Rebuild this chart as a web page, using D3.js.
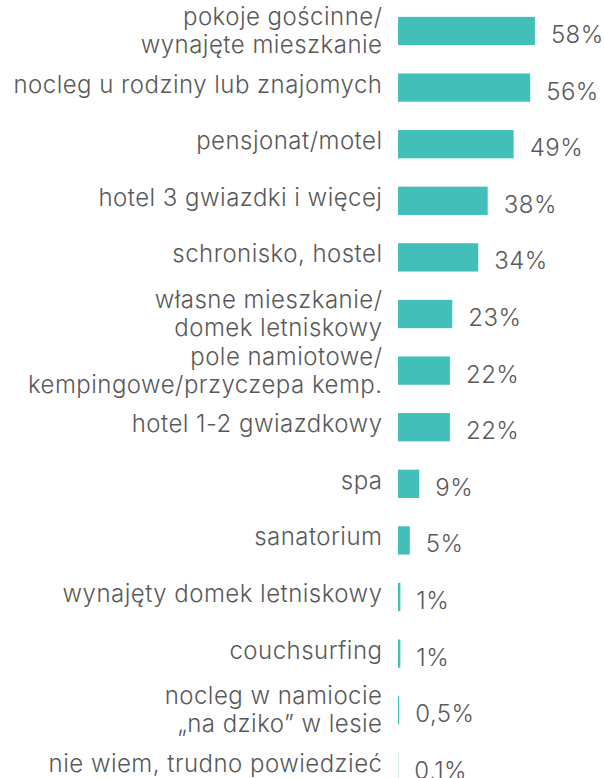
<!DOCTYPE html>
<html>
<head>
<meta charset="utf-8">
<script src="https://cdn.jsdelivr.net/npm/d3@7/dist/d3.min.js"></script>
<style>
  html, body { margin: 0; padding: 0; background: #ffffff; }
  svg { display: block; }
  text { font-family: "Inter", "Open Sans", sans-serif; font-weight: 300; fill: #595959; }
</style>
</head>
<body>
<svg id="chart" width="604" height="778"></svg>
<script>
// Accommodation types (line breaks marked with \n)
const categories = [
  "pokoje gościnne/\nwynajęte mieszkanie",
  "nocleg u rodziny lub znajomych",
  "pensjonat/motel",
  "hotel 3 gwiazdki i więcej",
  "schronisko, hostel",
  "własne mieszkanie/\ndomek letniskowy",
  "pole namiotowe/\nkempingowe/przyczepa kemp.",
  "hotel 1-2 gwiazdkowy",
  "spa",
  "sanatorium",
  "wynajęty domek letniskowy",
  "couchsurfing",
  "nocleg w namiocie\n„na dziko” w lesie",
  "nie wiem, trudno powiedzieć"
];
// Share of respondents, %
const values = [58, 56, 49, 38, 34, 23, 22, 22, 9, 5, 1, 1, 0.5, 0.1];

const svg = d3.select("#chart");
const barX0 = 398;
const labelRight = 382;

const x = d3.scaleLinear().domain([0, 100]).range([0, 236]);
const y = d3.scaleBand()
  .domain(categories)
  .range([2.7, 2.7 + 14 * 56.6])
  .paddingInner(0.5)
  .paddingOuter(0.25);

const fmt = v => String(v).replace(".", ",") + "%";

const rows = svg.selectAll("g.row")
  .data(categories.map((c, i) => ({ c, v: values[i] })))
  .join("g")
  .attr("class", "row");

rows.append("rect")
  .attr("x", barX0)
  .attr("y", d => y(d.c))
  .attr("width", d => x(d.v))
  .attr("height", y.bandwidth())
  .attr("fill", "#43bfba");

const labels = rows.append("text")
  .attr("class", "cat")
  .attr("text-anchor", "end")
  .style("font-size", "24px");

labels.each(function(d) {
  const lines = d.c.split("\n");
  const cy = y(d.c) + y.bandwidth() / 2;
  const t = d3.select(this);
  if (lines.length === 1) {
    t.append("tspan").attr("x", labelRight).attr("y", cy + 5).text(lines[0]);
  } else {
    lines.forEach((ln, k) => {
      t.append("tspan").attr("x", labelRight).attr("y", cy - 6 + k * 28).text(ln);
    });
  }
});

// Widen tracking so the longest single-line label spans its column
const refText = "nocleg u rodziny lub znajomych";
const ref = labels.filter(d => d.c === refText).node();
const w = ref.getComputedTextLength();
const spacing = (369 - w) / refText.length;
labels.style("letter-spacing", spacing + "px");
labels.selectAll("tspan").attr("dx", spacing);

rows.append("text")
  .attr("class", "val")
  .attr("x", d => barX0 + x(d.v) + 16)
  .attr("y", d => y(d.c) + y.bandwidth() / 2 + 12)
  .style("font-size", "24px")
  .style("letter-spacing", "0.5px")
  .text(d => fmt(d.v));
</script>
</body>
</html>
